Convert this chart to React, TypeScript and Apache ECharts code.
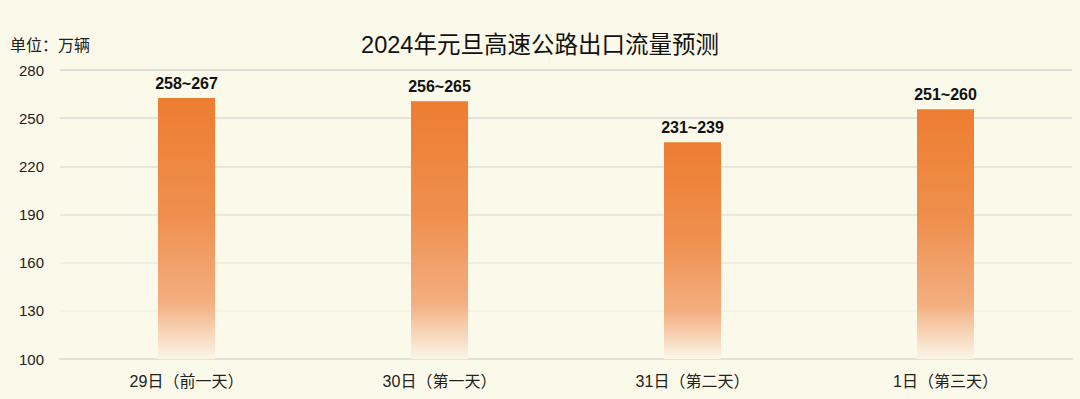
import React, { useEffect, useRef } from "react";
import * as echarts from "echarts";

const categories = ["29日（前一天）", "30日（第一天）", "31日（第二天）", "1日（第三天）"];
const lowValues = [258, 256, 231, 251];
const highValues = [267, 265, 239, 260];
const yTicks = { min: 100, max: 280, interval: 30 };

const FONT = "'Liberation Sans', Arial, 'Noto Sans CJK SC', sans-serif";

export default function App() {
  const ref = useRef<HTMLDivElement>(null);
  useEffect(() => {
    if (!ref.current) return;
    const chart = echarts.init(ref.current, undefined, { renderer: "svg" });
    const mids = lowValues.map((l, i) => (l + highValues[i]) / 2);
    chart.setOption({
      animation: false,
      backgroundColor: "#FBF9E9",
      textStyle: { fontFamily: FONT },
      title: {
        text: "2024年元旦高速公路出口流量预测",
        left: "center",
        top: 28,
        textStyle: { fontSize: 23.5, fontWeight: "normal", color: "#111", fontFamily: FONT },
      },
      graphic: [
        {
          type: "text",
          left: 10,
          top: 37,
          style: { text: "单位：万辆", fill: "#222", font: `16px ${FONT}` },
        },
      ],
      grid: { left: 60, right: 8, top: 70, bottom: 40 },
      xAxis: {
        type: "category",
        data: categories,
        axisLine: { show: true, lineStyle: { color: "#e2e1da", width: 2 } },
        axisTick: { show: false },
        axisLabel: { color: "#222", fontSize: 16, margin: 14, fontFamily: FONT },
      },
      yAxis: {
        type: "value",
        min: yTicks.min,
        max: yTicks.max,
        interval: yTicks.interval,
        axisLine: { show: false },
        axisTick: { show: false },
        axisLabel: { color: "#222", fontSize: 15, margin: 16, fontFamily: FONT },
        splitLine: {
          lineStyle: {
            width: 1.5,
            color: ["#e2e1da", "#f1f0e6", "#ebeae2", "#e4e3dc", "#dfdeda", "#dad9d6", "#d5d5d3"],
          },
        },
      },
      series: [
        {
          type: "bar",
          data: mids,
          barWidth: 57,
          itemStyle: {
            color: new echarts.graphic.LinearGradient(0, 0, 0, 1, [
              { offset: 0, color: "#ED7D31" },
              { offset: 0.45, color: "#EF904F" },
              { offset: 0.78, color: "#F3AE80" },
              { offset: 1, color: "#FBF6E8" },
            ]),
          },
          label: {
            show: true,
            position: "top",
            distance: 7,
            color: "#111",
            fontSize: 16,
            fontWeight: "bold",
            fontFamily: FONT,
            formatter: (p: any) => `${lowValues[p.dataIndex]}~${highValues[p.dataIndex]}`,
          },
        },
      ],
    });
    return () => chart.dispose();
  }, []);
  return (
    <div
      ref={ref}
      style={{ position: "absolute", left: 0, top: 0, width: 1080, height: 399 }}
    />
  );
}
